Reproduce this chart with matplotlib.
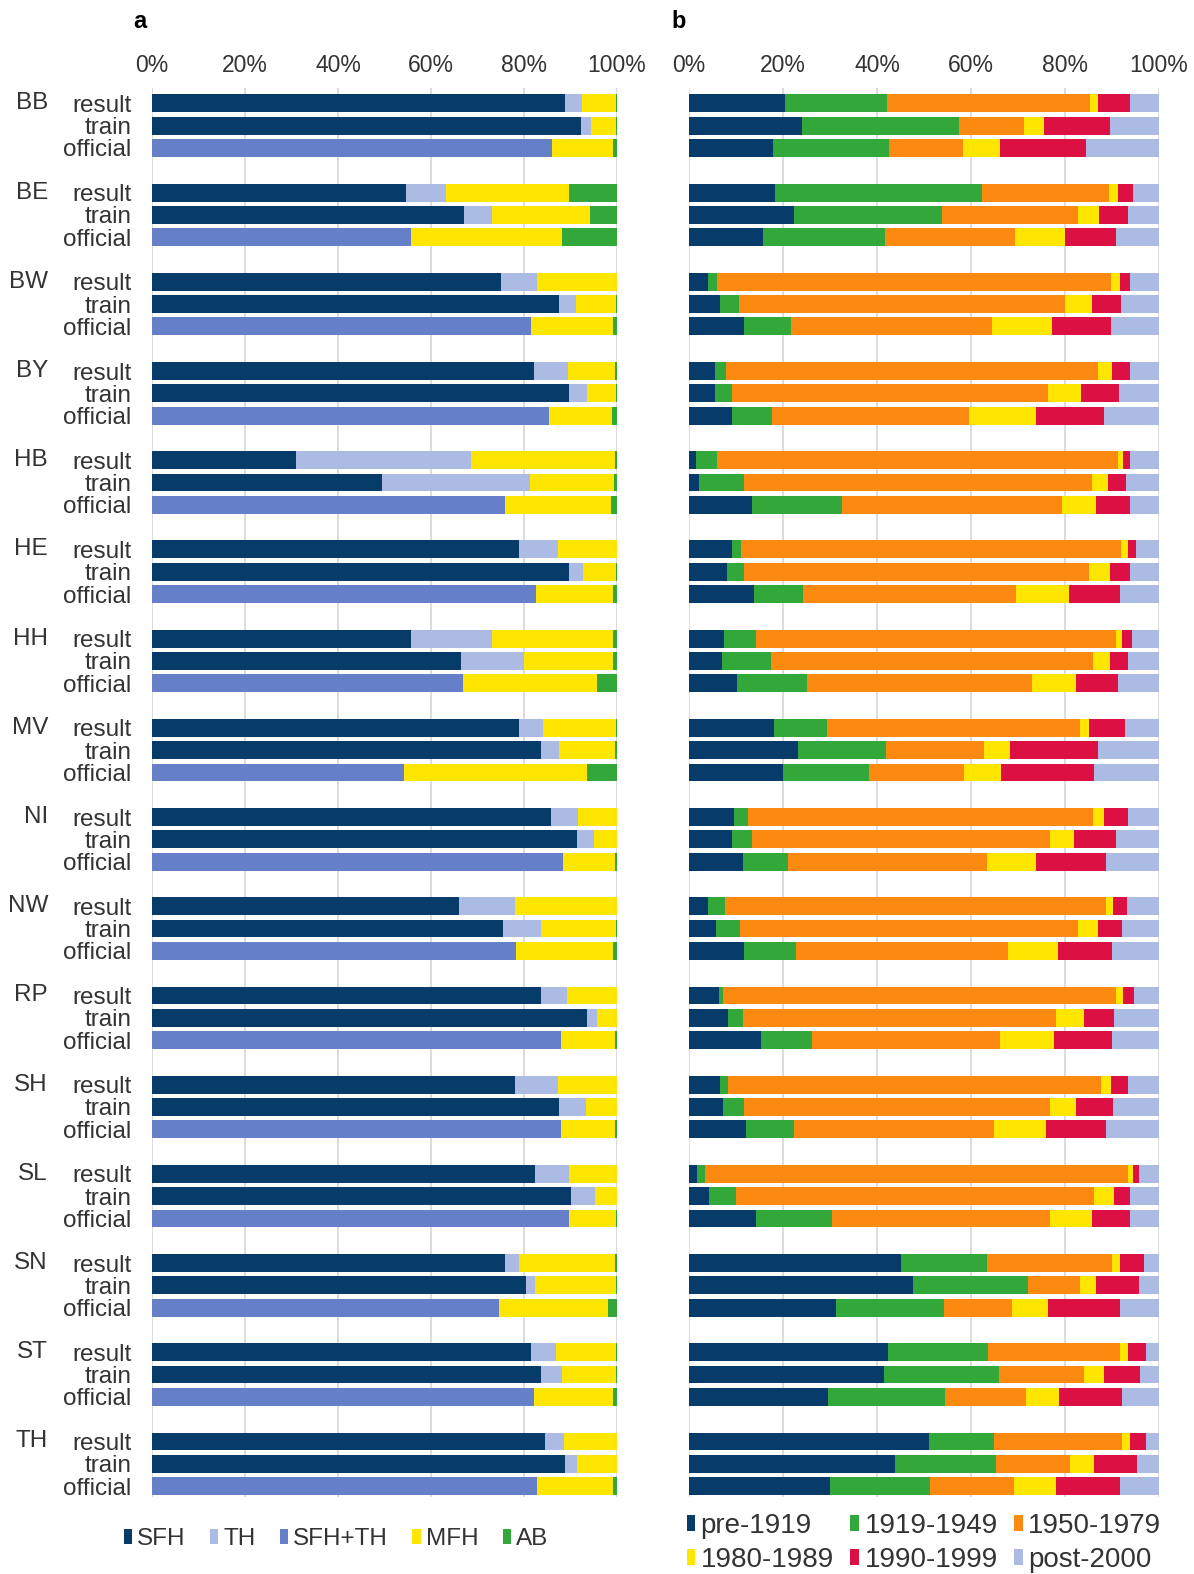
import numpy as np
import matplotlib
matplotlib.use('Agg')
import matplotlib.pyplot as plt
from matplotlib.patches import Patch
from matplotlib.transforms import blended_transform_factory

plt.rcParams['font.family'] = ['Liberation Sans', 'DejaVu Sans']

states = ['BB', 'BE', 'BW', 'BY', 'HB', 'HE', 'HH', 'MV',
          'NI', 'NW', 'RP', 'SH', 'SL', 'SN', 'ST', 'TH']
row_names = ['result', 'train', 'official']

# ---- panel a: building types (%) ----
type_labels = ['SFH', 'TH', 'SFH+TH', 'MFH', 'AB']
# columns: SFH, TH, MFH, AB
type_result = [
    [88.8, 3.6, 7.4, 0.2], [54.7, 8.6, 26.4, 10.3], [75.0, 7.8, 17.1, 0.1],
    [82.2, 7.3, 10.1, 0.4], [31.0, 37.6, 31.0, 0.4], [78.9, 8.4, 12.6, 0.1],
    [55.6, 17.6, 26.0, 0.8], [78.9, 5.2, 15.6, 0.3], [85.8, 5.8, 8.3, 0.1],
    [66.0, 12.1, 21.8, 0.1], [83.6, 5.7, 10.6, 0.1], [78.0, 9.3, 12.6, 0.1],
    [82.4, 7.3, 10.2, 0.1], [75.9, 3.0, 20.7, 0.4], [81.5, 5.3, 12.9, 0.3],
    [84.6, 4.0, 11.3, 0.1]]
type_train = [
    [92.2, 2.2, 5.4, 0.2], [67.0, 6.1, 21.0, 5.9], [87.5, 3.7, 8.5, 0.3],
    [89.6, 3.9, 6.2, 0.3], [49.4, 31.8, 18.1, 0.7], [89.6, 3.1, 7.0, 0.3],
    [66.4, 13.5, 19.3, 0.8], [83.6, 4.0, 12.0, 0.4], [91.4, 3.6, 4.9, 0.1],
    [75.4, 8.3, 16.0, 0.3], [93.5, 2.3, 4.1, 0.1], [87.6, 5.8, 6.5, 0.1],
    [90.1, 5.1, 4.7, 0.1], [80.4, 2.0, 17.3, 0.3], [83.6, 4.5, 11.6, 0.3],
    [88.8, 2.6, 8.5, 0.1]]
# columns: SFH+TH, MFH, AB
type_official = [
    [86.1, 13.1, 0.8], [55.8, 32.4, 11.8], [81.4, 17.7, 0.9], [85.3, 13.6, 1.1],
    [75.9, 22.8, 1.3], [82.6, 16.5, 0.9], [66.8, 29.0, 4.2], [54.3, 39.2, 6.5],
    [88.4, 11.1, 0.5], [78.2, 20.9, 0.9], [88.0, 11.6, 0.4], [88.0, 11.5, 0.5],
    [89.7, 10.0, 0.3], [74.6, 23.4, 2.0], [82.1, 17.0, 0.9], [82.8, 16.3, 0.9]]

# ---- panel b: construction periods (%) ----
age_labels = ['pre-1919', '1919-1949', '1950-1979', '1980-1989', '1990-1999', 'post-2000']
age_result = [
    [20.4, 21.7, 43.2, 1.7, 6.8, 6.2], [18.3, 44.0, 27.1, 1.8, 3.2, 5.6],
    [4.0, 1.9, 83.8, 2.0, 2.1, 6.2], [5.6, 2.2, 79.2, 2.9, 3.9, 6.2],
    [1.4, 4.6, 85.3, 1.0, 1.5, 6.2], [9.1, 2.0, 80.8, 1.4, 1.8, 4.9],
    [7.4, 6.8, 76.6, 1.3, 2.2, 5.7], [18.1, 11.3, 53.7, 2.0, 7.7, 7.2],
    [9.6, 3.0, 73.4, 2.2, 5.1, 6.7], [4.0, 3.7, 81.0, 1.5, 2.9, 6.9],
    [6.4, 0.9, 83.5, 1.6, 2.2, 5.4], [6.5, 1.9, 79.2, 2.1, 3.6, 6.7],
    [1.6, 1.9, 89.8, 1.2, 1.2, 4.3], [45.2, 18.3, 26.6, 1.5, 5.2, 3.2],
    [42.3, 21.4, 27.9, 1.7, 3.9, 2.8], [51.1, 13.8, 27.2, 1.7, 3.4, 2.8]]
age_train = [
    [24.0, 33.4, 13.8, 4.4, 14.0, 10.4], [22.4, 31.4, 28.9, 4.5, 6.3, 6.5],
    [6.6, 4.1, 69.2, 5.9, 6.1, 8.1], [5.6, 3.6, 67.1, 7.2, 7.9, 8.6],
    [2.1, 9.5, 74.2, 3.3, 3.8, 7.1], [8.0, 3.7, 73.5, 4.4, 4.2, 6.2],
    [7.0, 10.4, 68.6, 3.6, 3.9, 6.5], [23.2, 18.7, 20.9, 5.4, 18.8, 13.0],
    [9.1, 4.3, 63.4, 5.2, 8.8, 9.2], [5.7, 5.1, 71.9, 4.3, 5.2, 7.8],
    [8.3, 3.1, 66.6, 6.0, 6.5, 9.5], [7.3, 4.3, 65.2, 5.6, 7.9, 9.7],
    [4.3, 5.6, 76.3, 4.2, 3.4, 6.2], [47.7, 24.4, 11.0, 3.5, 9.1, 4.3],
    [41.4, 24.6, 18.0, 4.3, 7.7, 4.0], [43.8, 21.5, 15.7, 5.2, 9.1, 4.7]]
age_official = [
    [17.9, 24.7, 15.6, 8.0, 18.3, 15.5], [15.8, 25.8, 27.8, 10.7, 10.8, 9.1],
    [11.6, 10.2, 42.6, 12.8, 12.6, 10.2], [9.1, 8.5, 42.0, 14.2, 14.6, 11.6],
    [13.3, 19.3, 46.8, 7.2, 7.2, 6.2], [13.8, 10.5, 45.3, 11.2, 10.8, 8.4],
    [10.2, 15.0, 47.8, 9.4, 8.8, 8.8], [20.1, 18.3, 20.2, 7.8, 19.8, 13.8],
    [11.4, 9.6, 42.4, 10.5, 14.8, 11.3], [11.6, 11.2, 45.0, 10.8, 11.5, 9.9],
    [15.4, 10.7, 40.1, 11.5, 12.3, 10.0], [12.1, 10.2, 42.6, 11.0, 12.9, 11.2],
    [14.2, 16.2, 46.4, 8.9, 8.1, 6.2], [31.3, 23.0, 14.4, 7.6, 15.3, 8.4],
    [29.5, 25.0, 17.2, 7.1, 13.3, 7.9], [30.0, 21.3, 17.8, 8.9, 13.7, 8.3]]

xticks = [0, 20, 40, 60, 80, 100]

# ---- styles ----
NAVY = '#063b6a'
LIGHT = '#abbbe3'
MID = '#6580c8'
YEL = '#ffe600'
GRN = '#32a83b'
ORG = '#fd8a10'
RED = '#dc1042'
type_colors = [NAVY, LIGHT, MID, YEL, GRN]
result_cols = [NAVY, LIGHT, YEL, GRN]
official_cols = [MID, YEL, GRN]
age_colors = [NAVY, GRN, ORG, YEL, RED, LIGHT]

W, H = 1194, 1574
fig = plt.figure(figsize=(W / 100, H / 100), dpi=100)


def fa(l, t, r, b):
    return [l / W, 1 - b / H, (r - l) / W, (b - t) / H]


axa = fig.add_axes(fa(152, 88, 617, 1497))
axb = fig.add_axes(fa(689, 88, 1159, 1497))

BH = 0.8
TICK_FS = 16.5
LAB_FS = 17.5


def stack(ax, y, vals, cols):
    left = 0.0
    for v, c in zip(vals, cols):
        ax.barh(y, v, left=left, height=BH, color=c, linewidth=0)
        left += v


ypos = []
ylabs = []
for i, st in enumerate(states):
    y0 = 4 * i
    stack(axa, y0, type_result[i], result_cols)
    stack(axa, y0 + 1, type_train[i], result_cols)
    stack(axa, y0 + 2, type_official[i], official_cols)
    stack(axb, y0, age_result[i], age_colors)
    stack(axb, y0 + 1, age_train[i], age_colors)
    stack(axb, y0 + 2, age_official[i], age_colors)
    for k, rn in enumerate(row_names):
        ypos.append(y0 + k)
        ylabs.append(rn)

for ax in (axa, axb):
    ax.set_xlim(0, 100)
    ax.set_ylim(62.49, -0.69)
    ax.set_xticks(xticks)
    ax.set_xticklabels([f'{t}%' for t in xticks], fontsize=TICK_FS, color='#333333')
    ax.xaxis.tick_top()
    ax.tick_params(axis='x', length=0, pad=8)
    ax.set_axisbelow(True)
    ax.xaxis.grid(True, color='#d9d9d9', linewidth=1.3)
    for s in ax.spines.values():
        s.set_visible(False)

axa.set_yticks(ypos)
axa.set_yticklabels(ylabs, fontsize=LAB_FS, color='#333333')
axa.tick_params(axis='y', length=0, pad=15)
axb.set_yticks([])

tr = blended_transform_factory(axa.transAxes, axa.transData)
for i, st in enumerate(states):
    axa.text(-0.2237, 4 * i, st, transform=tr, ha='right', va='center',
             fontsize=LAB_FS, color='#333333')

fig.text(140 / W, 1 - 22 / H, 'a', fontsize=17, fontweight='bold', ha='center', va='center')
fig.text(679 / W, 1 - 22 / H, 'b', fontsize=17, fontweight='bold', ha='center', va='center')

ha_ = [Patch(facecolor=c, edgecolor='none') for c in type_colors]
fig.legend(ha_, type_labels, loc='center', bbox_to_anchor=(336 / W, 1 - 1539 / H),
           ncol=5, frameon=False, fontsize=17.5, handlelength=0.35, handleheight=0.55,
           handletextpad=0.2, columnspacing=1.0, labelcolor='#333333')

# legend b is filled row by row (matplotlib fills columns first)
order = [0, 3, 1, 4, 2, 5]
hb_ = [Patch(facecolor=age_colors[k], edgecolor='none') for k in order]
fig.legend(hb_, [age_labels[k] for k in order], loc='center',
           bbox_to_anchor=(924 / W, 1 - 1543 / H),
           ncol=3, frameon=False, fontsize=20, handlelength=0.3, handleheight=0.5,
           handletextpad=0.2, columnspacing=0.6, labelspacing=0.3, labelcolor='#333333')

fig.savefig('out.png', dpi=100)
